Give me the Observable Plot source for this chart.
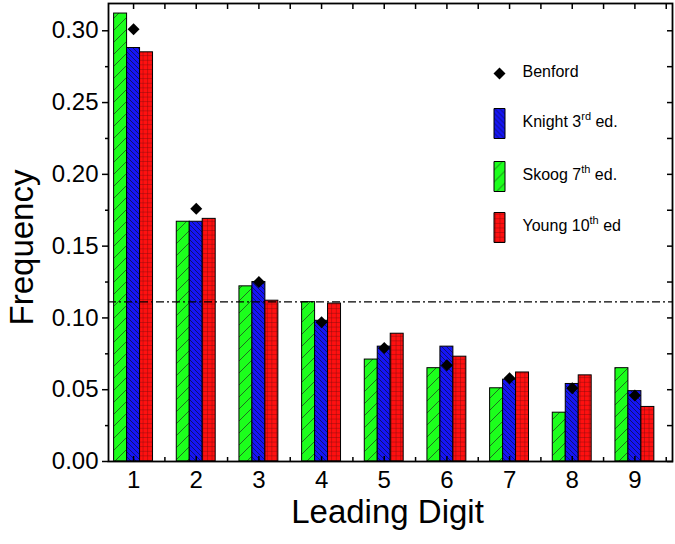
<!DOCTYPE html>
<html><head><meta charset="utf-8">
<script src="https://cdn.jsdelivr.net/npm/d3@7"></script>
<script src="https://cdn.jsdelivr.net/npm/@observablehq/plot@0.6"></script>
<style>
html,body{margin:0;padding:0;background:#fff}
#chart{width:675px;height:544px;overflow:hidden}
</style>
</head><body><div id="chart"></div>
<script>
// ---- data ----
const digits  = [1, 2, 3, 4, 5, 6, 7, 8, 9];
const benford = [0.301, 0.176, 0.125, 0.097, 0.079, 0.067, 0.058, 0.051, 0.046];
const knight  = [0.288, 0.167, 0.125, 0.098, 0.080, 0.080, 0.057, 0.054, 0.049];
const skoog   = [0.312, 0.167, 0.122, 0.111, 0.071, 0.065, 0.051, 0.034, 0.065];
const young   = [0.285, 0.169, 0.112, 0.110, 0.089, 0.073, 0.062, 0.060, 0.038];
const uniform = [1 / 9];
const yTicks  = [0, 0.05, 0.10, 0.15, 0.20, 0.25, 0.30];
const yMinor  = [0.025, 0.075, 0.125, 0.175, 0.225, 0.275];
const xHalf   = [1.5, 2.5, 3.5, 4.5, 5.5, 6.5, 7.5, 8.5, 9.5];
const legendLabels = ["Benford", "Knight 3^rd^ ed.", "Skoog 7^th^ ed.", "Young 10^th^ ed"];

// ---- build tables ----
const bw = 0.207;
const series = [
  {name: "Skoog", values: skoog, slot: -1, fill: "url(#pSkoog)"},
  {name: "Knight", values: knight, slot: 0, fill: "url(#pKnight)"},
  {name: "Young", values: young, slot: 1, fill: "url(#pYoung)"}
];
const tables = series.map(s => digits.map((d, i) => ({digit: d, value: s.values[i], slot: s.slot})));
const benTable = digits.map((d, i) => ({digit: d, value: benford[i]}));

const font = "Liberation Sans, Arial, Helvetica, sans-serif";
const blank = () => "";
const swatch = {draw(ctx) { ctx.rect(-5.5, -15, 11, 30); }};

const marks = [];
series.forEach((s, k) => {
  marks.push(Plot.rectY(tables[k], {
    x1: d => d.digit + d.slot * bw - bw / 2,
    x2: d => d.digit + d.slot * bw + bw / 2,
    y: "value",
    fill: s.fill, stroke: "black", strokeWidth: 1
  }));
});
marks.push(Plot.ruleY(uniform, {stroke: "black", strokeWidth: 1.2, strokeDasharray: "8,3,2,3"}));
marks.push(Plot.dot(benTable, {x: "digit", y: "value", symbol: "diamond2", r: 5.4, fill: "black"}));

// axes
marks.push(Plot.axisY(yTicks, {anchor: "left", tickSize: 6, tickPadding: 4, strokeWidth: 1.5,
  tickFormat: d3.format(".2f"), fontSize: 24, label: null}));
marks.push(Plot.axisY(yMinor, {anchor: "left", tickSize: 3, strokeWidth: 1.5, tickFormat: blank, label: null}));
marks.push(Plot.axisY([...yTicks, ...yMinor], {anchor: "right", tickSize: 6, dx: -6, strokeWidth: 1.5, tickFormat: blank, label: null}));
marks.push(Plot.axisX([...digits, ...xHalf], {anchor: "top", tickSize: 5, dy: 5, strokeWidth: 1.5, tickFormat: blank, label: null}));
marks.push(Plot.axisX(digits, {anchor: "bottom", tickSize: 5, dy: -5, strokeWidth: 1.5, tickFormat: blank, label: null}));
marks.push(Plot.axisX(xHalf, {anchor: "bottom", tickSize: 4, dy: -4, strokeWidth: 1.5, tickFormat: blank, label: null}));
marks.push(Plot.axisX(digits, {anchor: "bottom", tickSize: 0, tickPadding: 9, fontSize: 24, label: null}));
marks.push(Plot.frame({stroke: "black", strokeWidth: 1.8}));

// axis titles
marks.push(Plot.text(["Frequency"], {frameAnchor: "left", rotate: -90, dx: -86, dy: 15, fontSize: 33,
  textAnchor: "middle", lineAnchor: "middle", fill: "black"}));
marks.push(Plot.text(["Leading Digit"], {frameAnchor: "bottom", dx: -3, dy: 38, fontSize: 33,
  textAnchor: "middle", lineAnchor: "top", fill: "black"}));

// legend
const rowDy = [70, 120, 173, 224];
marks.push(Plot.dot([legendLabels[0]], {frameAnchor: "top-left", dx: 391, dy: rowDy[0], symbol: "diamond2", r: 5.4, fill: "black"}));
const legendFills = ["url(#pKnight)", "url(#pSkoog)", "url(#pYoung)"];
legendFills.forEach((f, i) => {
  marks.push(Plot.dot([legendLabels[i + 1]], {frameAnchor: "top-left", dx: 391, dy: rowDy[i + 1], symbol: swatch, fill: f, stroke: "black", strokeWidth: 1}));
});
legendLabels.forEach((lab, i) => {
  marks.push(Plot.text([lab], {frameAnchor: "top-left", dx: 414, dy: rowDy[i] - 2, textAnchor: "start", lineAnchor: "middle",
    fontSize: 16, fill: "black"}));
});

const chart = Plot.plot({
  width: 675, height: 544,
  marginLeft: 108, marginRight: 3, marginTop: 3, marginBottom: 83,
  x: {type: "linear", domain: [0.6, 9.6]},
  y: {type: "linear", domain: [0, 0.319]},
  style: {fontFamily: font, color: "black", background: "white", overflow: "visible"},
  marks
});

// patterns
const svg = d3.select(chart.tagName.toLowerCase() === "svg" ? chart : chart.querySelector("svg"));
const defs = svg.insert("defs", ":first-child");
{
  const p = defs.append("pattern").attr("id", "pSkoog").attr("patternUnits", "userSpaceOnUse").attr("width", 12).attr("height", 12);
  p.append("rect").attr("width", 12).attr("height", 12).attr("fill", "#1cff1c");
  p.append("path").attr("d", "M-1,13 L13,-1 M-1,1 L1,-1 M11,13 L13,11").attr("stroke", "#1d4d1d").attr("stroke-width", 0.8);
}
{
  const p = defs.append("pattern").attr("id", "pKnight").attr("patternUnits", "userSpaceOnUse").attr("width", 5).attr("height", 5);
  p.append("rect").attr("width", 5).attr("height", 5).attr("fill", "#1515f5");
  p.append("path").attr("d", "M-1,-1 L6,6 M4,-1 L6,1 M-1,4 L1,6").attr("stroke", "#10104a").attr("stroke-width", 0.8);
}
{
  const p = defs.append("pattern").attr("id", "pYoung").attr("patternUnits", "userSpaceOnUse").attr("width", 4.6).attr("height", 4.6);
  p.append("rect").attr("width", 4.6).attr("height", 4.6).attr("fill", "#ff1010");
  p.append("path").attr("d", "M0,0 L4.6,0 M0,0 L0,4.6").attr("stroke", "#7a0a0a").attr("stroke-width", 0.8);
}

// superscripts in legend labels
svg.selectAll("text").each(function () {
  const t = d3.select(this);
  const full = t.text();
  if (full.indexOf("^") < 0) return;
  const parts = full.split("^");
  t.selectAll("*").remove();
  t.text(null);
  parts.forEach((s, i) => {
    if (!s) return;
    const ts = t.append("tspan").text(s);
    if (i % 2 === 1) ts.attr("font-size", 11).attr("dy", -7);
    else if (i > 0) ts.attr("dy", 7);
  });
});

document.getElementById("chart").appendChild(chart);
</script>
</body></html>
